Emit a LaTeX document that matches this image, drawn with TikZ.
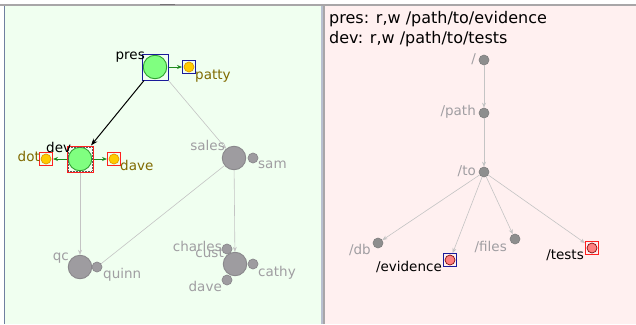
\documentclass[tikz,border=0pt]{standalone}
\usepackage{fontspec}
\setmainfont{DejaVu Sans}
\usetikzlibrary{arrows.meta}
\definecolor{leftbg}{HTML}{F0FFF0}
\definecolor{rightbg}{HTML}{FFF0F0}
\definecolor{frameline}{HTML}{A8A6A8}
\definecolor{leftframe}{HTML}{7080A0}
\definecolor{grpfill}{HTML}{9E9CA0}
\definecolor{grpdraw}{HTML}{8A888C}
\definecolor{grplabel}{HTML}{A09EA2}
\definecolor{greenfill}{HTML}{80FF80}
\definecolor{greendraw}{HTML}{30A030}
\definecolor{yelfill}{HTML}{FFCC00}
\definecolor{yeldraw}{HTML}{E09A00}
\definecolor{olive}{HTML}{806A00}
\definecolor{boxblue}{HTML}{1A1A9A}
\definecolor{boxred}{HTML}{FF2020}
\definecolor{edgegray}{HTML}{C4C4C4}
\definecolor{arrgreen}{HTML}{208A20}
\definecolor{treefill}{HTML}{8E8E8E}
\definecolor{treedraw}{HTML}{7E7E7E}
\definecolor{pinkfill}{HTML}{FF8080}
\definecolor{pinkdraw}{HTML}{801010}
\tikzset{
  bigc/.style={circle, inner sep=0pt, minimum size=23.5pt, line width=0.9pt},
  smallc/.style={circle, inner sep=0pt, minimum size=10pt, line width=0.7pt},
  grpbig/.style={bigc, fill=grpfill, draw=grpdraw},
  grpsmall/.style={smallc, fill=grpfill, draw=grpdraw},
  activebig/.style={bigc, fill=greenfill, draw=greendraw},
  usersmall/.style={smallc, fill=yelfill, draw=yeldraw},
  selbox/.style={rectangle, inner sep=0pt, line width=1pt, fill=none},
  glabel/.style={inner sep=0pt, text=grplabel, font=\fontsize{13.5}{15}\selectfont},
  ulabel/.style={inner sep=0pt, text=olive, font=\fontsize{13.5}{15}\selectfont},
  blabel/.style={inner sep=0pt, text=black, font=\fontsize{13.5}{15}\selectfont},
  grayedge/.style={draw=edgegray, line width=0.6pt, -{Stealth[length=5pt,width=4pt]}},
  grayline/.style={draw=edgegray, line width=0.6pt},
  greenedge/.style={draw=arrgreen, line width=1pt, -{Stealth[length=5pt,width=4pt]}},
  blackedge/.style={draw=black, line width=1pt, -{Stealth[length=7pt,width=5pt]}},
  treenode/.style={circle, inner sep=0pt, minimum size=10pt, fill=treefill, draw=treedraw, line width=0.6pt},
  hitnode/.style={circle, inner sep=0pt, minimum size=10pt, fill=pinkfill, draw=pinkdraw, line width=0.7pt},
}
\begin{document}
\begin{tikzpicture}[x=1pt, y=-1pt]
\useasboundingbox (0,0) rectangle (636,324);
% backgrounds
\fill[white] (0,0) rectangle (636,324);
\fill[leftbg] (5,6) rectangle (321,324);
\fill[rightbg] (325,6) rectangle (636,324);
\fill[frameline] (0,4) rectangle (636,6);
\fill[frameline!70!black] (160,3.5) rectangle (175,5);
\fill[leftframe] (4,6) rectangle (5.2,324);
\fill[leftframe!50!white] (321,6) rectangle (322.5,324);
\fill[frameline] (322.5,6) rectangle (325,324);

% ===== left graph =====
\node[activebig] (pres) at (155,67) {};
\node[selbox, draw=boxblue, minimum size=26pt] (presbox) at (pres) {};
\node[usersmall] (patty) at (189,67) {};
\node[selbox, draw=boxblue, minimum size=13pt] (pattybox) at (patty) {};

\node[activebig] (dev) at (80,159) {};
\node[selbox, draw=boxred, minimum size=26pt] (devbox) at (dev) {};
\node[rectangle, inner sep=0pt, minimum size=23.5pt, draw=gray!70!black, densely dotted, line width=0.5pt] (devinner) at (dev) {};
\node[usersmall] (dot) at (46,159) {};
\node[selbox, draw=boxred, minimum size=13pt] (dotbox) at (dot) {};
\node[usersmall] (dave) at (114,159) {};
\node[selbox, draw=boxred, minimum size=13pt] (davebox) at (dave) {};

\node[grpbig] (sales) at (234,158) {};
\node[grpsmall] (sam) at (253,158) {};
\node[grpbig] (qc) at (80,267) {};
\node[grpsmall] (quinn) at (97,267) {};
\node[grpbig] (cust) at (235,264) {};
\node[grpsmall] (charles) at (227,249) {};
\node[grpsmall] (cathy) at (253,264) {};
\node[grpsmall] (dave2) at (227,280) {};

% edges
\draw[blackedge] (presbox) -- (devbox);
\draw[greenedge] (presbox) -- (pattybox);
\draw[greenedge] (devbox) -- (dotbox);
\draw[greenedge] (devbox) -- (davebox);
\draw[grayedge] (presbox.south east) -- (sales);
\draw[grayedge] (devbox) -- (qc);
\draw[grayedge] (sales) -- (cust);
\draw[grayline] (sales) -- (quinn);

% labels
\node[blabel, anchor=base east] (lpres) at (145,59) {pres};
\node[ulabel, anchor=base west] (lpatty) at (195,79) {patty};
\node[blabel, anchor=base west] (ldev) at (46,152) {dev};
\node[ulabel, anchor=base east] (ldot) at (40,161) {dot};
\node[ulabel, anchor=base west] (ldave) at (120,170) {dave};
\node[glabel, anchor=base east] (lsales) at (225,150) {sales};
\node[glabel, anchor=base west] (lsam) at (258,168) {sam};
\node[glabel, anchor=base east] (lqc) at (69,260) {qc};
\node[glabel, anchor=base west] (lquinn) at (103,278) {quinn};
\node[glabel, anchor=base east] (lcharles) at (222,251) {charles};
\node[glabel, anchor=base east] (lcust) at (224,257) {cust};
\node[glabel, anchor=base west] (lcathy) at (258,276) {cathy};
\node[glabel, anchor=base east] (ldave2) at (222,291) {dave};

% ===== right panel =====
\node[inner sep=0pt, anchor=base west, font=\fontsize{16}{20}\selectfont] (hdr1) at (329,23) {pres: r,w /path/to/evidence};
\node[inner sep=0pt, anchor=base west, font=\fontsize{16}{20}\selectfont] (hdr2) at (329,43) {dev: r,w /path/to/tests};

\node[treenode] (root) at (484,60) {};
\node[treenode] (path) at (484,113) {};
\node[treenode] (to) at (484,172) {};
\node[treenode] (db) at (378,243) {};
\node[hitnode] (evid) at (450,260) {};
\node[selbox, draw=boxblue, minimum size=13pt] (evidbox) at (evid) {};
\node[treenode] (files) at (515,239) {};
\node[hitnode] (tests) at (592,248) {};
\node[selbox, draw=boxred, minimum size=13pt] (testsbox) at (tests) {};

\draw[grayedge] (root) -- (path);
\draw[grayedge] (path) -- (to);
\draw[grayedge] (to) -- (db);
\draw[grayedge] (to) -- (evidbox);
\draw[grayedge] (to) -- (files);
\draw[grayedge] (to) -- (testsbox);

\node[glabel, anchor=base east] (lroot) at (476,63) {/};
\node[glabel, anchor=base east] (lpath) at (476,115) {/path};
\node[glabel, anchor=base east] (lto) at (476,175) {/to};
\node[glabel, anchor=base east] (ldb) at (371,254) {/db};
\node[blabel, anchor=base east] (levid) at (442,271) {/evidence};
\node[glabel, anchor=base east] (lfiles) at (507,251) {/files};
\node[blabel, anchor=base east] (ltests) at (584,259) {/tests};
\end{tikzpicture}
\end{document}
